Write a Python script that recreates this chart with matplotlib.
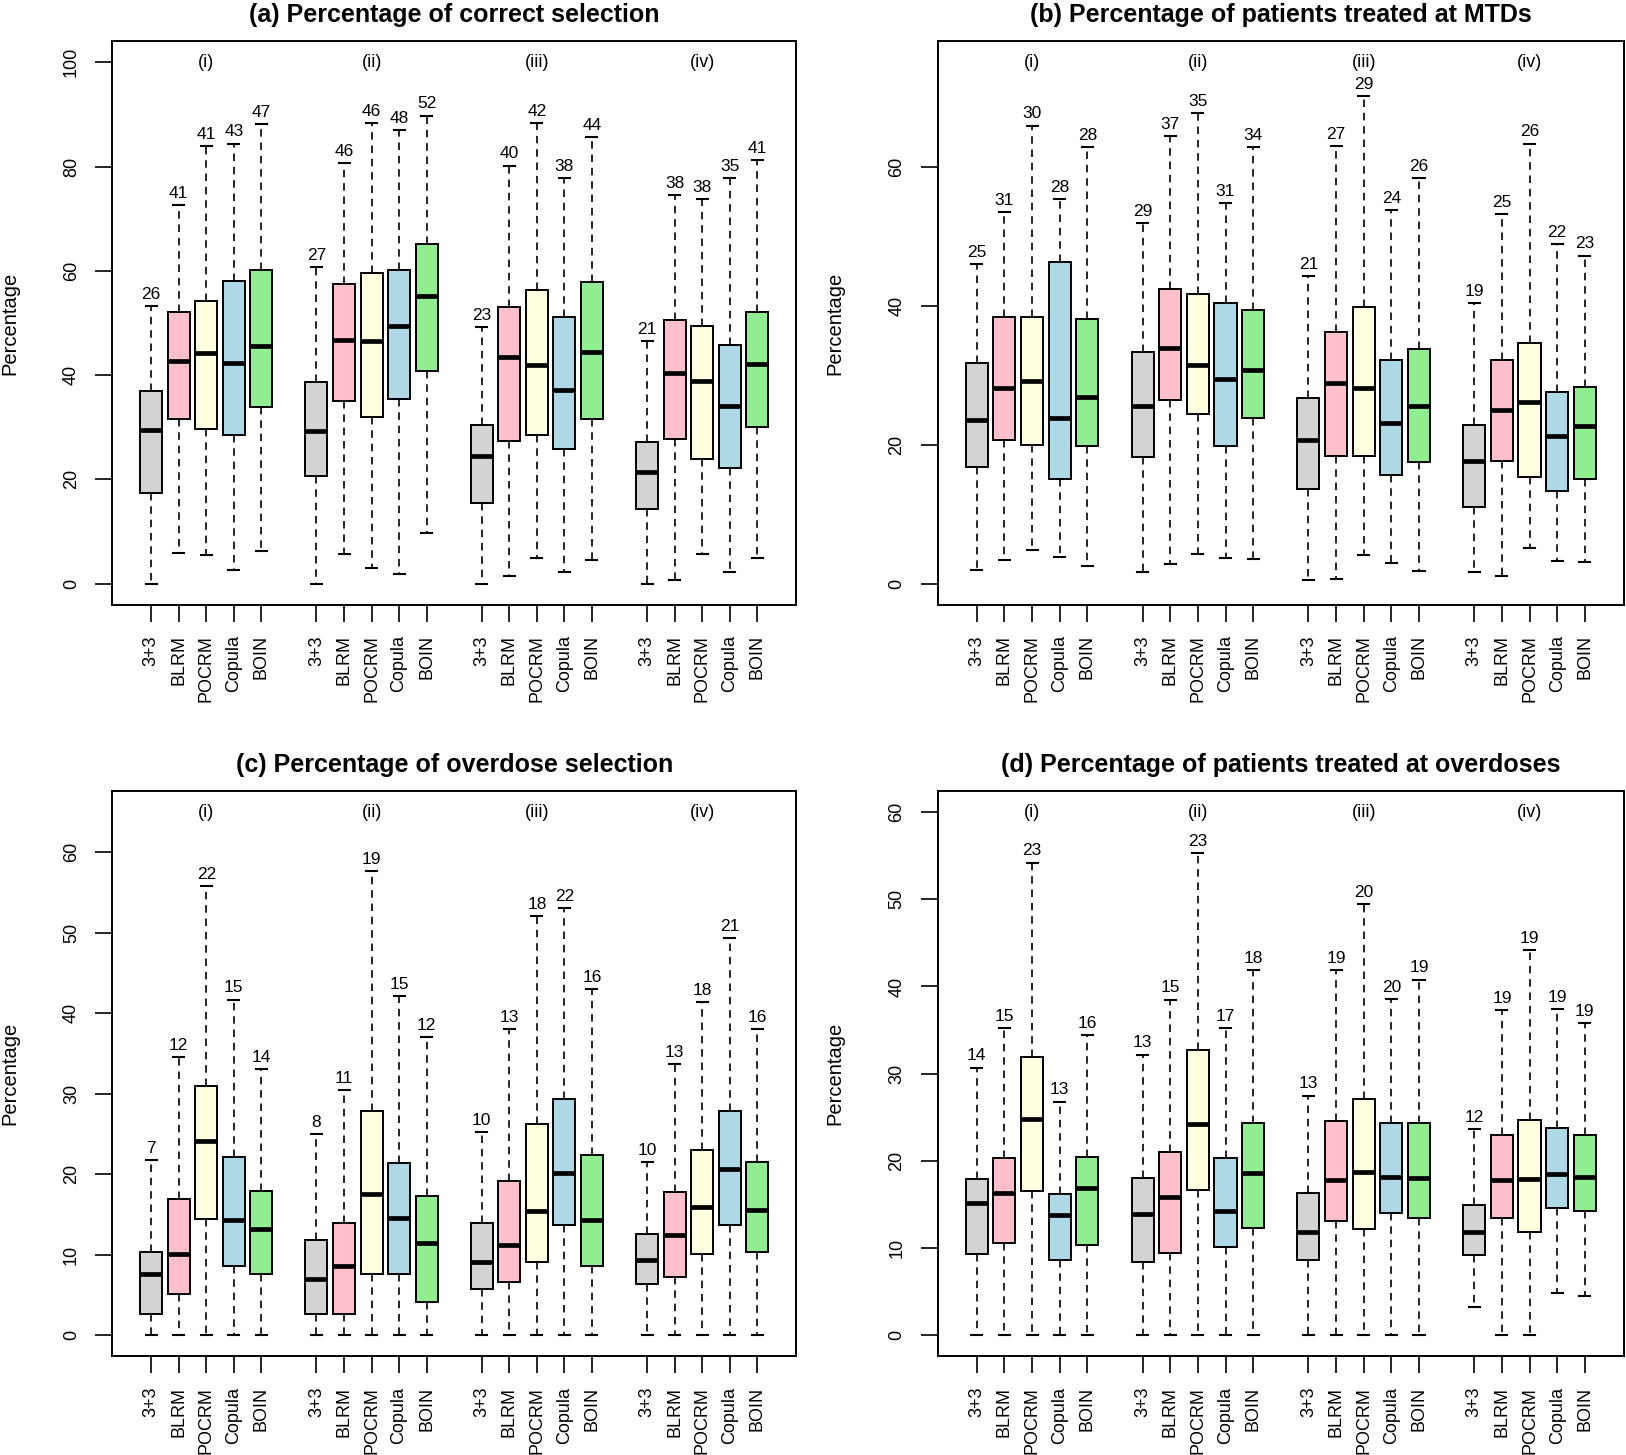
import matplotlib
matplotlib.use("Agg")
import matplotlib.pyplot as plt
import numpy as np

plt.rcParams["font.family"] = ["Liberation Sans", "DejaVu Sans"]

methods = ["3+3", "BLRM", "POCRM", "Copula", "BOIN"]
scenarios = ["(i)", "(ii)", "(iii)", "(iv)"]
colors = ["#D3D3D3", "#FFC0CB", "#FFFFE0", "#ADD8E6", "#90EE90"]

# (a) percentage of correct selection -- 4 scenarios x 5 methods
a_hi = [53.2, 72.6, 84.0, 84.4, 88.2, 60.8, 80.7, 88.4, 87.0, 89.8,
        49.2, 80.2, 88.4, 77.8, 85.7, 46.6, 74.6, 73.8, 77.8, 81.2]
a_q3 = [37.0, 52.1, 54.2, 58.1, 60.1, 38.6, 57.4, 59.6, 60.1, 65.1,
        30.4, 53.1, 56.4, 51.2, 57.8, 27.1, 50.5, 49.4, 45.8, 52.2]
a_med = [29.4, 42.7, 44.2, 42.4, 45.6, 29.2, 46.8, 46.6, 49.5, 55.1,
         24.4, 43.4, 41.9, 37.2, 44.4, 21.4, 40.5, 38.8, 34.1, 42.1]
a_q1 = [17.4, 31.6, 29.6, 28.5, 33.9, 20.7, 35.0, 31.9, 35.4, 40.8,
        15.4, 27.4, 28.5, 25.9, 31.6, 14.3, 27.8, 24.0, 22.1, 30.1]
a_lo = [0.0, 5.8, 5.6, 2.6, 6.3, 0.0, 5.7, 3.1, 1.9, 9.7,
        0.0, 1.4, 4.9, 2.2, 4.5, 0.0, 0.8, 5.7, 2.2, 4.9]
a_mean = [26, 41, 41, 43, 47, 27, 46, 46, 48, 52,
          23, 40, 42, 38, 44, 21, 38, 38, 35, 41]

# (b) percentage of patients treated at MTDs
b_hi = [46.0, 53.5, 65.9, 55.3, 62.8, 51.9, 64.4, 67.7, 54.7, 62.8,
        44.2, 62.9, 70.1, 53.7, 58.3, 40.4, 53.2, 63.3, 48.9, 47.2]
b_q3 = [31.7, 38.4, 38.4, 46.3, 38.1, 33.4, 42.4, 41.7, 40.4, 39.4,
        26.7, 36.2, 39.8, 32.2, 33.8, 22.8, 32.2, 34.6, 27.6, 28.3]
b_med = [23.6, 28.2, 29.1, 23.8, 26.9, 25.6, 33.9, 31.4, 29.5, 30.7,
         20.6, 28.8, 28.1, 23.1, 25.5, 17.7, 25.0, 26.1, 21.3, 22.7]
b_q1 = [16.8, 20.7, 20.0, 15.0, 19.8, 18.2, 26.4, 24.4, 19.8, 23.9,
        13.6, 18.3, 18.4, 15.6, 17.5, 11.0, 17.6, 15.4, 13.3, 15.0]
b_lo = [2.0, 3.4, 4.9, 3.9, 2.6, 1.7, 2.8, 4.3, 3.7, 3.5,
        0.5, 0.7, 4.2, 3.0, 1.8, 1.7, 1.1, 5.1, 3.3, 3.1]
b_mean = [25, 31, 30, 28, 28, 29, 37, 35, 31, 34,
          21, 27, 29, 24, 26, 19, 25, 26, 22, 23]

# (c) percentage of overdose selection
c_hi = [21.8, 34.6, 55.8, 41.7, 33.1, 25.0, 30.5, 57.7, 42.1, 37.1,
        25.3, 38.0, 52.1, 53.1, 43.0, 21.5, 33.7, 41.4, 49.3, 38.0]
c_q3 = [10.4, 17.0, 31.0, 22.2, 17.9, 11.8, 13.9, 27.9, 21.4, 17.3,
        13.9, 19.2, 26.2, 29.3, 22.4, 12.6, 17.8, 23.0, 27.9, 21.5]
c_med = [7.6, 10.1, 24.1, 14.3, 13.2, 7.0, 8.6, 17.6, 14.6, 11.5,
         9.1, 11.2, 15.5, 20.2, 14.3, 9.4, 12.5, 15.9, 20.7, 15.6]
c_q1 = [2.7, 5.2, 14.5, 8.6, 7.6, 2.6, 2.7, 7.6, 7.6, 4.2,
        5.8, 6.6, 9.1, 13.7, 8.6, 6.4, 7.2, 10.1, 13.7, 10.3]
c_lo = [0.0] * 20
c_mean = [7, 12, 22, 15, 14, 8, 11, 19, 15, 12,
          10, 13, 18, 22, 16, 10, 13, 18, 21, 16]

# (d) percentage of patients treated at overdoses
d_hi = [30.7, 35.2, 54.2, 26.8, 34.4, 32.2, 38.5, 55.3, 35.2, 41.9,
        27.5, 41.9, 49.4, 38.6, 40.8, 23.7, 37.3, 44.2, 37.4, 35.8]
d_q3 = [17.9, 20.3, 31.9, 16.2, 20.5, 18.0, 21.0, 32.7, 20.3, 24.3,
        16.3, 24.6, 27.1, 24.4, 24.4, 14.9, 23.0, 24.7, 23.8, 23.0]
d_med = [15.2, 16.3, 24.8, 13.8, 16.9, 13.9, 15.9, 24.2, 14.3, 18.6,
         11.8, 17.8, 18.7, 18.2, 18.0, 11.9, 17.8, 17.9, 18.5, 18.2]
d_q1 = [9.3, 10.6, 16.5, 8.7, 10.4, 8.4, 9.4, 16.7, 10.1, 12.3,
        8.7, 13.1, 12.2, 14.0, 13.5, 9.2, 13.5, 11.9, 14.6, 14.3]
d_lo = [0.0, 0.0, 0.0, 0.0, 0.0, 0.0, 0.0, 0.0, 0.0, 0.0,
        0.0, 0.0, 0.0, 0.0, 0.0, 3.3, 0.0, 0.0, 4.9, 4.5]
d_mean = [14, 15, 23, 13, 16, 13, 15, 23, 17, 18,
          13, 19, 20, 20, 19, 12, 19, 19, 19, 19]


def draw_panel(ax, title, lo, q1, med, q3, hi, means, ytop, yticks):
    n_m = len(methods)
    pos = [g * (n_m + 1) + m + 1 for g in range(len(scenarios)) for m in range(n_m)]
    stats = [
        {"whislo": lo[i], "q1": q1[i], "med": med[i], "q3": q3[i], "whishi": hi[i], "fliers": []}
        for i in range(len(pos))
    ]
    bp = ax.bxp(
        stats, positions=pos, widths=0.8, capwidths=0.4, patch_artist=True,
        boxprops=dict(linewidth=1.4, edgecolor="black"),
        medianprops=dict(color="black", linewidth=3.4, solid_capstyle="butt"),
        whiskerprops=dict(color="black", linewidth=1.2, linestyle=(0, (4.5, 3.5))),
        capprops=dict(color="black", linewidth=1.5),
    )
    for i, patch in enumerate(bp["boxes"]):
        patch.set_facecolor(colors[i % n_m])

    for x, y, m in zip(pos, hi, means):
        ax.annotate(str(m), (x, y), xytext=(0, 3), textcoords="offset points",
                    ha="center", va="bottom", fontsize=12.5)

    for g, s in enumerate(scenarios):
        ax.text(g * (n_m + 1) + 3, ytop, s, ha="center", va="center", fontsize=13)

    span = pos[-1] - pos[0] + 1.0
    ax.set_xlim(pos[0] - 0.5 - 0.04 * span, pos[-1] + 0.5 + 0.04 * span)
    ax.set_ylim(-0.04 * ytop, ytop * 1.04)
    ax.set_xticks(pos)
    ax.set_xticklabels(methods * len(scenarios), rotation=90, fontsize=13)
    ax.set_yticks(yticks)
    ax.set_yticklabels([str(v) for v in yticks], fontsize=13)
    ax.tick_params(axis="x", length=12, width=1.2, pad=10)
    ax.tick_params(axis="y", length=12, width=1.2, pad=11, labelrotation=90)
    for lab in ax.get_yticklabels():
        lab.set_va("center")
    for sp in ax.spines.values():
        sp.set_linewidth(1.4)
    ax.set_title(title, fontsize=18, fontweight="bold", pad=14)


fig = plt.figure(figsize=(16.26, 14.55), dpi=100)
ax_a = fig.add_axes([0.0689, 0.5845, 0.4209, 0.3870])
ax_b = fig.add_axes([0.5766, 0.5845, 0.4222, 0.3870])
ax_c = fig.add_axes([0.0689, 0.0678, 0.4209, 0.3885])
ax_d = fig.add_axes([0.5766, 0.0678, 0.4222, 0.3885])

draw_panel(ax_a, "(a) Percentage of correct selection",
           a_lo, a_q1, a_med, a_q3, a_hi, a_mean, 100, [0, 20, 40, 60, 80, 100])
draw_panel(ax_b, "(b) Percentage of patients treated at MTDs",
           b_lo, b_q1, b_med, b_q3, b_hi, b_mean, 75, [0, 20, 40, 60])
draw_panel(ax_c, "(c) Percentage of overdose selection",
           c_lo, c_q1, c_med, c_q3, c_hi, c_mean, 65, [0, 10, 20, 30, 40, 50, 60])
draw_panel(ax_d, "(d) Percentage of patients treated at overdoses",
           d_lo, d_q1, d_med, d_q3, d_hi, d_mean, 60, [0, 10, 20, 30, 40, 50, 60])

# y labels sit far out to the left of each panel
for xf, ax in [(10 / 1626, ax_a), (835 / 1626, ax_b), (10 / 1626, ax_c), (835 / 1626, ax_d)]:
    bb = ax.get_position()
    fig.text(xf, bb.y0 + bb.height / 2, "Percentage", rotation=90,
             ha="center", va="center", fontsize=14.5)

fig.savefig("out.png", dpi=100)
